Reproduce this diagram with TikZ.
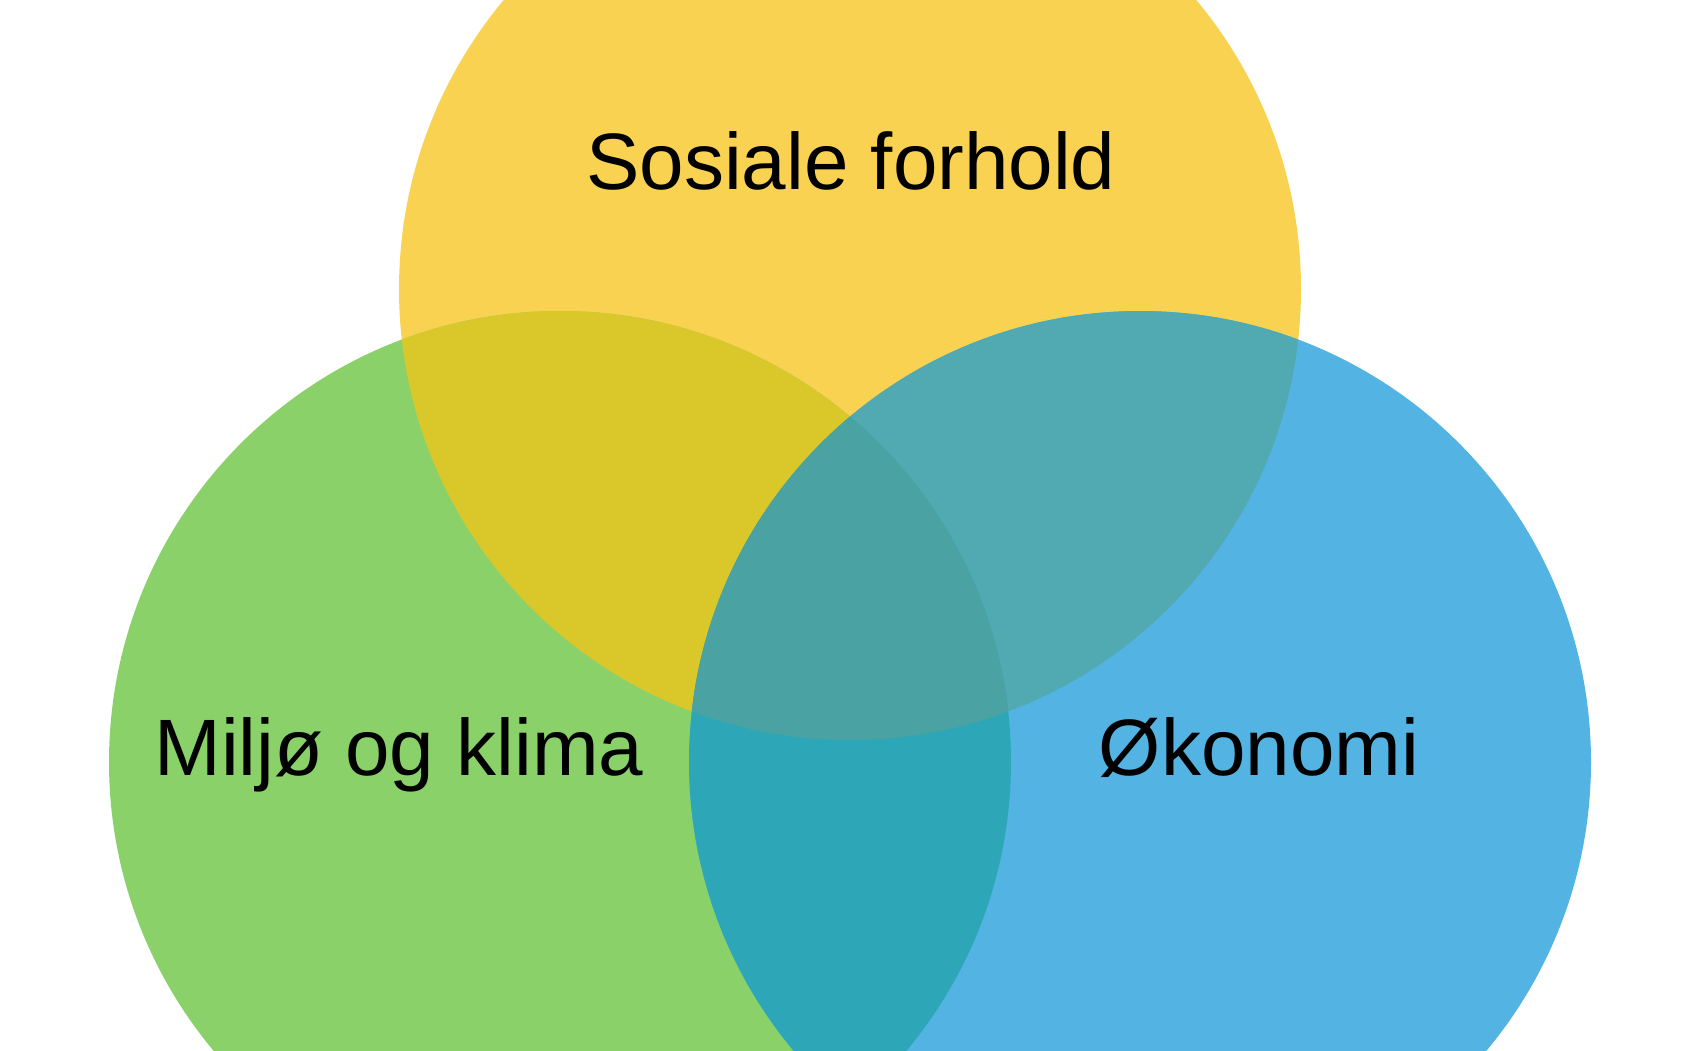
\documentclass[tikz,border=0pt]{standalone}
\usepackage{fontspec}
\setmainfont{Liberation Sans}
\usepackage{tikz}
\usetikzlibrary{positioning}

\definecolor{socyellow}{HTML}{F9D252}
\definecolor{envgreen}{HTML}{8AD16A}
\definecolor{ecoblue}{HTML}{53B4E4}
\definecolor{socenv}{HTML}{DAC72A}
\definecolor{soceco}{HTML}{51A9B1}
\definecolor{enveco}{HTML}{2DA7B7}
\definecolor{allthree}{HTML}{4AA3A2}

\tikzset{
  label text/.style={font=\fontsize{80}{96}\selectfont, text=black, anchor=base, inner sep=0pt}
}

\begin{document}
\begin{tikzpicture}[x=1pt,y=-1pt]
\def\rad{451}
\useasboundingbox (0,0) rectangle (1700,1051);
\fill[white] (0,0) rectangle (1700,1051);
\coordinate (soc) at (850,289);
\coordinate (env) at (560,762);
\coordinate (eco) at (1140,762);
% the three circles
\fill[socyellow] (soc) circle (\rad);
\fill[envgreen] (env) circle (\rad);
\fill[ecoblue] (eco) circle (\rad);
% overlaps
\begin{scope}
\clip (soc) circle (\rad);
\fill[socenv] (env) circle (\rad);
\fill[soceco] (eco) circle (\rad);
\end{scope}
\begin{scope}
\clip (env) circle (\rad);
\fill[enveco] (eco) circle (\rad);
\clip (eco) circle (\rad);
\fill[allthree] (soc) circle (\rad);
\end{scope}
% labels
\node[label text] (sosial) at (851,190) {Sosiale forhold};
\node[label text] (miljo) at (399,775) {Miljø og klima};
\node[label text] (okonomi) at (1259,775) {Økonomi};
\end{tikzpicture}
\end{document}
